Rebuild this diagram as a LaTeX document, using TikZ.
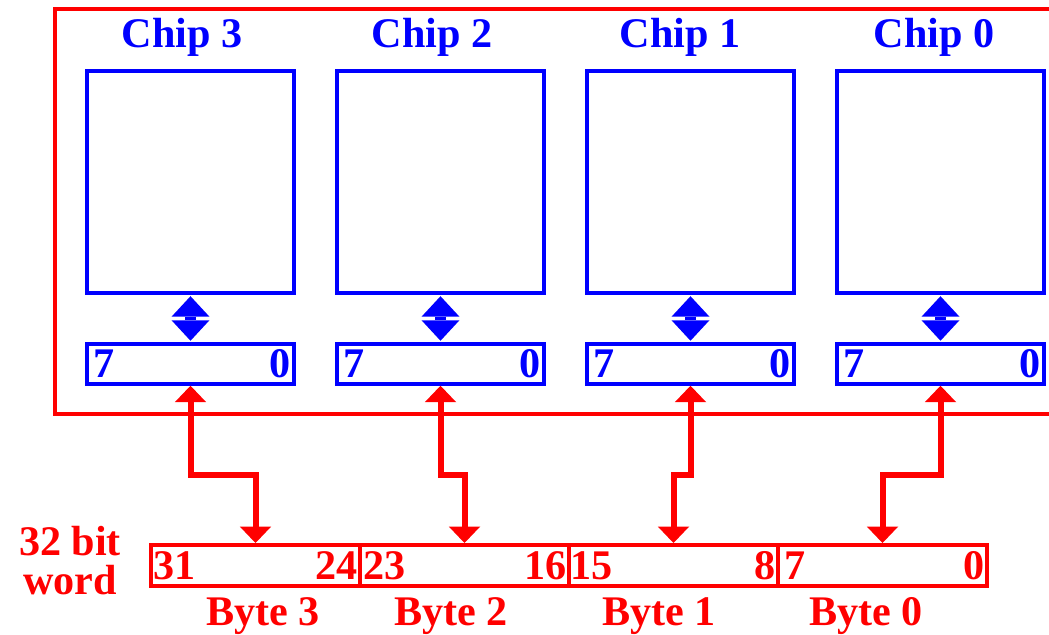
\documentclass[tikz,border=0pt]{standalone}
\usepackage{fontspec}
\setmainfont{Liberation Serif}
\usetikzlibrary{arrows.meta, positioning}

\definecolor{chipblue}{RGB}{0,0,255}
\definecolor{wordred}{RGB}{255,0,0}

\begin{document}
\begin{tikzpicture}[
    x=0.02cm, y=-0.02cm,
    every node/.style={font=\fontsize{24}{22}\selectfont\bfseries, inner sep=0pt},
    chipbox/.style={draw=chipblue, line width=0.07cm,
                    minimum width=4.14cm, minimum height=4.44cm},
    regbox/.style={draw=chipblue, line width=0.07cm,
                   minimum width=4.14cm, minimum height=0.8cm},
    chipname/.style={text=chipblue, anchor=base},
    regbit/.style={text=chipblue},
    bytebox/.style={draw=wordred, line width=0.08cm,
                    minimum width=4.18cm, minimum height=0.82cm},
    wordbit/.style={text=wordred},
    bytename/.style={text=wordred, anchor=base},
    chiplink/.style={chipblue, line width=0.22cm, shorten <=0.03cm, shorten >=0.03cm,
      {Triangle[length=0.41cm, width=0.76cm, line width=0pt]}-{Triangle[length=0.41cm, width=0.76cm, line width=0pt]}},
    wordbus/.style={wordred, line width=0.12cm,
      {Triangle[length=0.33cm, width=0.63cm, line width=0pt]}-{Triangle[length=0.33cm, width=0.63cm, line width=0pt]}}
  ]
  \useasboundingbox (0,0) rectangle (1049,635);

  \draw[wordred, line width=0.08cm] (1070,9.5) -| (55,414) -- (1070,414);

  \node[chipbox] (chip3) at (190.5,182) {};
  \node[chipbox] (chip2) at (440.5,182) {};
  \node[chipbox] (chip1) at (690.5,182) {};
  \node[chipbox] (chip0) at (940.5,182) {};

  \node[chipname] (name3) at (182,48) {Chip 3};
  \node[chipname] (name2) at (432,48) {Chip 2};
  \node[chipname] (name1) at (680,48) {Chip 1};
  \node[chipname] (name0) at (934,48) {Chip 0};

  \node[regbox] (reg3) at (190.5,364) {};
  \node[regbox] (reg2) at (440.5,364) {};
  \node[regbox] (reg1) at (690.5,364) {};
  \node[regbox] (reg0) at (940.5,364) {};

  \node[regbit, anchor=west] (r3hi) at ([xshift=0.16cm]reg3.west) {7};
  \node[regbit, anchor=east] (r3lo) at ([xshift=-0.1cm]reg3.east) {0};
  \node[regbit, anchor=west] (r2hi) at ([xshift=0.16cm]reg2.west) {7};
  \node[regbit, anchor=east] (r2lo) at ([xshift=-0.1cm]reg2.east) {0};
  \node[regbit, anchor=west] (r1hi) at ([xshift=0.16cm]reg1.west) {7};
  \node[regbit, anchor=east] (r1lo) at ([xshift=-0.1cm]reg1.east) {0};
  \node[regbit, anchor=west] (r0hi) at ([xshift=0.16cm]reg0.west) {7};
  \node[regbit, anchor=east] (r0lo) at ([xshift=-0.1cm]reg0.east) {0};

  \node[bytebox] (byte3) at (255.5,565.5) {};
  \node[bytebox] (byte2) at (464.5,565.5) {};
  \node[bytebox] (byte1) at (673.5,565.5) {};
  \node[bytebox] (byte0) at (882.5,565.5) {};

  \node[wordbit, anchor=west] (b31) at ([xshift=0.08cm]byte3.west) {31};
  \node[wordbit, anchor=east] (b24) at ([xshift=-0.08cm]byte3.east) {24};
  \node[wordbit, anchor=west] (b23) at ([xshift=0.1cm]byte2.west) {23};
  \node[wordbit, anchor=east] (b16) at ([xshift=-0.08cm]byte2.east) {16};
  \node[wordbit, anchor=west] (b15) at ([xshift=0.06cm]byte1.west) {15};
  \node[wordbit, anchor=east] (b8) at ([xshift=-0.08cm]byte1.east) {8};
  \node[wordbit, anchor=west] (b7) at ([xshift=0.16cm]byte0.west) {7};
  \node[wordbit, anchor=east] (b0) at ([xshift=-0.08cm]byte0.east) {0};

  \node[bytename] (bname3) at (263,625) {Byte 3};
  \node[bytename] (bname2) at (451,625) {Byte 2};
  \node[bytename] (bname1) at (659,625) {Byte 1};
  \node[bytename] (bname0) at (866,625) {Byte 0};

  \node[text=wordred, align=center, anchor=north] (wordlbl) at (70,526) {32 bit\\word};

  \draw[chiplink] (chip3) -- (reg3);
  \draw[chiplink] (chip2) -- (reg2);
  \draw[chiplink] (chip1) -- (reg1);
  \draw[chiplink] (chip0) -- (reg0);

  \coordinate (bend) at (0,475);
  \draw[wordbus] (reg3.south) -- (reg3.south |- bend) -| (byte3.north);
  \draw[wordbus] (reg2.south) -- (reg2.south |- bend) -| (byte2.north);
  \draw[wordbus] (reg1.south) -- (reg1.south |- bend) -| (byte1.north);
  \draw[wordbus] (reg0.south) -- (reg0.south |- bend) -| (byte0.north);
\end{tikzpicture}
\end{document}
